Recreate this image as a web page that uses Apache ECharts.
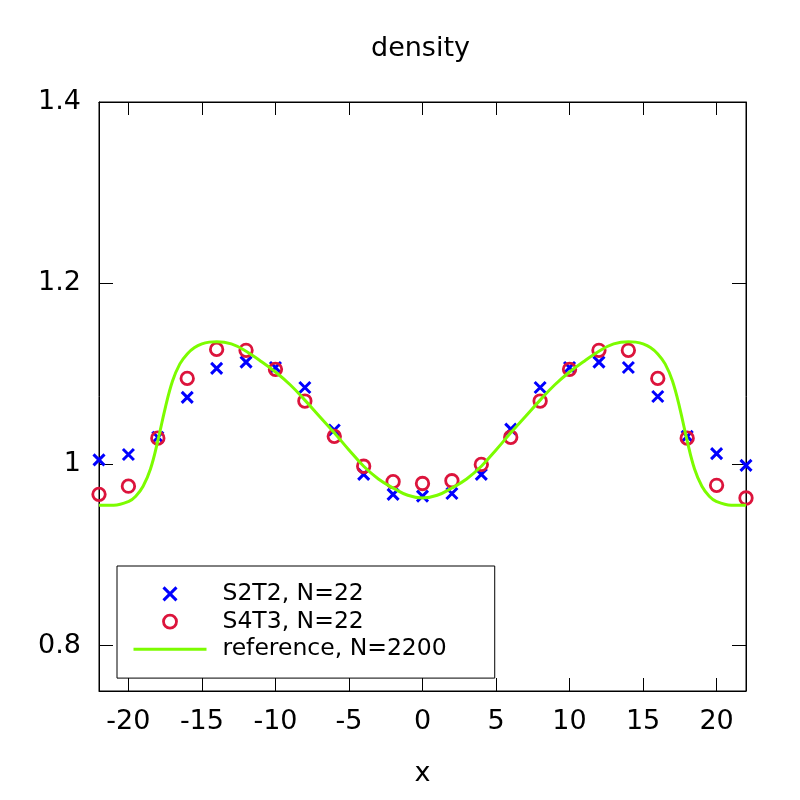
<!DOCTYPE html>
<html>
<head>
<meta charset="UTF-8">
<title>density</title>
<script src="https://cdn.jsdelivr.net/npm/echarts@6/dist/echarts.min.js"></script>
<style>
  * { margin: 0; padding: 0; }
  html, body { background: #fff; }
  #main { width: 800px; height: 800px; }
</style>
</head>
<body>
<div id="main"></div>
<script>
// sample points
var sampleX = [-22, -20, -18, -16, -14, -12, -10, -8, -6, -4, -2, 0, 2, 4, 6, 8, 10, 12, 14, 16, 18, 20, 22];
var s2t2 = [1.005, 1.011, 1.030, 1.074, 1.106, 1.113, 1.107, 1.085, 1.038, 0.989, 0.967, 0.965,
            0.968, 0.989, 1.039, 1.085, 1.107, 1.113, 1.107, 1.075, 1.031, 1.012, 0.999];
var s4t3 = [0.967, 0.976, 1.029, 1.095, 1.127, 1.126, 1.105, 1.070, 1.031, 0.998, 0.981, 0.979,
            0.982, 1.000, 1.030, 1.070, 1.105, 1.126, 1.126, 1.095, 1.029, 0.977, 0.963];

// reference curve
var refX = [-22, -21, -20, -19.5, -19, -18.5, -18, -17.5, -17, -16.5, -16, -15.5, -15, -14.5, -14,
            -13, -12, -11, -10, -9, -8, -7, -6, -5, -4, -3, -2, -1, 0,
            1, 2, 3, 4, 5, 6, 7, 8, 9, 10, 11, 12, 13,
            14, 14.5, 15, 15.5, 16, 16.5, 17, 17.5, 18, 18.5, 19, 19.5, 20, 21, 22];
var refY = [0.955, 0.955, 0.959, 0.965, 0.976, 0.995, 1.026, 1.062, 1.092, 1.111, 1.122, 1.129, 1.133, 1.135, 1.1355,
            1.133, 1.125, 1.114, 1.102, 1.088, 1.071, 1.053, 1.035, 1.016, 0.998, 0.984, 0.974, 0.966, 0.963,
            0.966, 0.974, 0.984, 0.998, 1.016, 1.035, 1.053, 1.071, 1.088, 1.102, 1.114, 1.125, 1.133,
            1.1355, 1.135, 1.133, 1.129, 1.122, 1.111, 1.092, 1.062, 1.026, 0.995, 0.976, 0.965, 0.959, 0.955, 0.955];

var xTicks = [-20, -15, -10, -5, 0, 5, 10, 15, 20];
var yTicks = [0.8, 1, 1.2, 1.4];

var names = ['S2T2, N=22', 'S4T3, N=22', 'reference, N=2200'];

function pairs(xs, ys) {
  var out = [];
  for (var i = 0; i < xs.length; i++) out.push([xs[i], ys[i]]);
  return out;
}

var crossPath = 'path://M0,0L10,10M10,0L0,10';
var font = 'DejaVu Sans';

var myChart = echarts.init(document.getElementById('main'));

var option = {
  backgroundColor: '#fff',
  animation: false,
  title: {
    text: 'density',
    left: 371,
    top: 35,
    padding: 0,
    textStyle: { fontFamily: font, fontSize: 27, fontWeight: 'normal', color: '#000' }
  },
  grid: {
    left: 99, right: 54, top: 102, bottom: 109,
    show: true, borderColor: '#000', borderWidth: 1
  },
  legend: {
    orient: 'vertical',
    left: 117,
    top: 566,
    padding: [14, 48, 15, 15],
    borderColor: '#000',
    borderWidth: 1,
    itemWidth: 73,
    itemHeight: 13,
    itemGap: 0,
    textStyle: { fontFamily: font, fontSize: 23.5, color: '#000', lineHeight: 27.7, padding: [0, 0, 0, 11] },
    data: [
      { name: names[0], icon: crossPath, itemStyle: { color: 'none', borderColor: '#0000ff', borderWidth: 3, opacity: 1 } },
      { name: names[1], icon: 'circle', itemStyle: { color: 'none', borderColor: '#dc143c', borderWidth: 2.8, opacity: 1 } },
      { name: names[2], itemStyle: { color: 'none', borderWidth: 0 }, lineStyle: { color: '#7cfc00', width: 3 } }
    ]
  },
  xAxis: [{
    type: 'value', min: -22, max: 22, position: 'bottom',
    name: 'x', nameLocation: 'middle', nameGap: 69,
    nameTextStyle: { fontFamily: font, fontSize: 27, color: '#000' },
    axisLine: { show: true, onZero: false, lineStyle: { color: '#000', width: 1 } },
    axisTick: { inside: true, length: 13, customValues: xTicks, lineStyle: { color: '#000' } },
    axisLabel: { customValues: xTicks, margin: 17, fontFamily: font, fontSize: 27, color: '#000' },
    splitLine: { show: false }
  }, {
    type: 'value', min: -22, max: 22, position: 'top',
    axisLine: { show: true, onZero: false, lineStyle: { color: '#000', width: 1 } },
    axisTick: { inside: true, length: 13, customValues: xTicks, lineStyle: { color: '#000' } },
    axisLabel: { show: false },
    splitLine: { show: false }
  }],
  yAxis: [{
    type: 'value', min: 0.75, max: 1.4, position: 'left',
    axisLine: { show: true, onZero: false, lineStyle: { color: '#000', width: 1 } },
    axisTick: { inside: true, length: 14, customValues: yTicks, lineStyle: { color: '#000' } },
    axisLabel: { customValues: yTicks, margin: 18, fontFamily: font, fontSize: 27, color: '#000' },
    splitLine: { show: false }
  }, {
    type: 'value', min: 0.75, max: 1.4, position: 'right',
    axisLine: { show: true, onZero: false, lineStyle: { color: '#000', width: 1 } },
    axisTick: { inside: true, length: 14, customValues: yTicks, lineStyle: { color: '#000' } },
    axisLabel: { show: false },
    splitLine: { show: false }
  }],
  series: [{
    name: names[0],
    type: 'scatter',
    clip: false,
    symbol: crossPath,
    symbolSize: 11,
    itemStyle: { color: 'none', borderColor: '#0000ff', borderWidth: 3, opacity: 1 },
    data: pairs(sampleX, s2t2),
    z: 3
  }, {
    name: names[1],
    type: 'scatter',
    clip: false,
    symbol: 'circle',
    symbolSize: 12.5,
    itemStyle: { color: 'none', borderColor: '#dc143c', borderWidth: 2.8, opacity: 1 },
    data: pairs(sampleX, s4t3),
    z: 4
  }, {
    name: names[2],
    type: 'line',
    symbol: 'none',
    smooth: 0.4,
    lineStyle: { color: '#7cfc00', width: 3 },
    itemStyle: { color: '#7cfc00' },
    data: pairs(refX, refY),
    z: 5
  }]
};
myChart.setOption(option);
</script>
</body>
</html>
